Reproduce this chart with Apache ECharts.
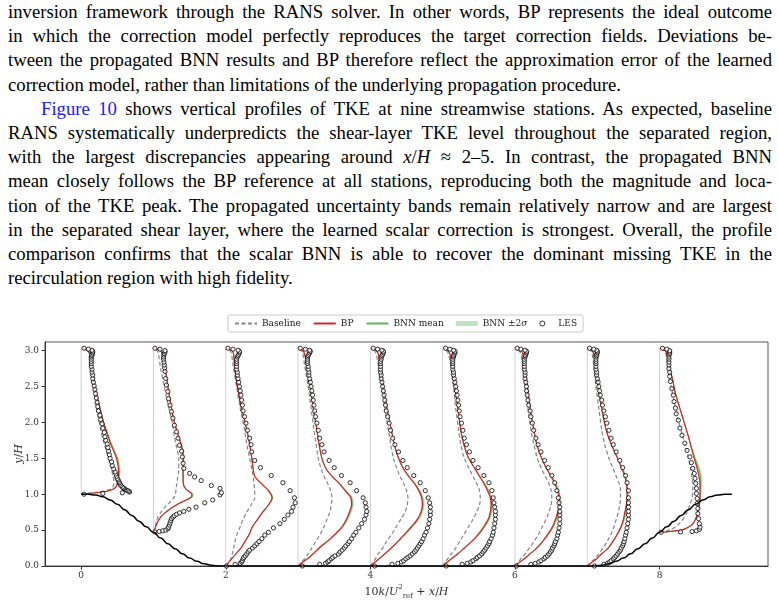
<!DOCTYPE html>
<html>
<head>
<meta charset="utf-8">
<script src="https://cdn.jsdelivr.net/npm/echarts@6/dist/echarts.min.js"></script>
<style>
  html, body { margin: 0; padding: 0; background: #fff; }
  body { width: 778px; height: 604px; position: relative; overflow: hidden; }
  .text {
    position: absolute; left: 8px; top: 0; width: 764px;
    font-family: "Liberation Serif", "Times New Roman", serif;
    font-size: 18.7px; line-height: 24.2px; color: #000;
  }
  .text .l { text-align: justify; text-align-last: justify; white-space: nowrap; }
  .text .e { text-align: left; }
  .text .ind { padding-left: 33px; }
  .text a { color: #1a1aff; text-decoration: none; }
  #chart { position: absolute; left: 0; top: 300px; width: 778px; height: 304px; }
</style>
</head>
<body>
<div class="text">
  <div class="l">inversion framework through the RANS solver. In other words, BP represents the ideal outcome</div>
  <div class="l">in which the correction model perfectly reproduces the target correction fields. Deviations be-</div>
  <div class="l">tween the propagated BNN results and BP therefore reflect the approximation error of the learned</div>
  <div class="e">correction model, rather than limitations of the underlying propagation procedure.</div>
  <div class="l ind"><a>Figure 10</a> shows vertical profiles of TKE at nine streamwise stations. As expected, baseline</div>
  <div class="l">RANS systematically underpredicts the shear-layer TKE level throughout the separated region,</div>
  <div class="l">with the largest discrepancies appearing around <i>x</i>/<i>H</i> ≈ 2–5. In contrast, the propagated BNN</div>
  <div class="l">mean closely follows the BP reference at all stations, reproducing both the magnitude and loca-</div>
  <div class="l">tion of the TKE peak. The propagated uncertainty bands remain relatively narrow and are largest</div>
  <div class="l">in the separated shear layer, where the learned scalar correction is strongest. Overall, the profile</div>
  <div class="l">comparison confirms that the scalar BNN is able to recover the dominant missing TKE in the</div>
  <div class="e">recirculation region with high fidelity.</div>
</div>
<div id="chart"></div>
<script>
// stations x/H and wall height under each station
const stations = [0, 1, 2, 3, 4, 5, 6, 7, 8];
const stationFloor = [1.0, 0.47, 0, 0, 0, 0, 0, 0, 0.47];
const wallTop = 3.036;

const xTicks = [0, 2, 4, 6, 8];
const yTicks = [0, 0.5, 1, 1.5, 2, 2.5, 3];

// hill geometry
const hillX = [0, 0.1, 0.2, 0.3, 0.4, 0.5, 0.6, 0.7, 0.8, 0.9, 1.0, 1.1, 1.2, 1.3, 1.4, 1.5, 1.6, 1.7, 1.8, 1.93,
    7.07, 7.2, 7.3, 7.4, 7.5, 7.6, 7.7, 7.8, 7.9, 8.0, 8.1, 8.2, 8.3, 8.4, 8.5, 8.6, 8.7, 8.8, 8.9, 9.0];
const hillY = [1.0, 0.998, 0.99, 0.965, 0.92, 0.86, 0.785, 0.705, 0.625, 0.545, 0.47, 0.39, 0.31, 0.24, 0.17, 0.11, 0.065, 0.03, 0.01, 0,
    0, 0.01, 0.03, 0.065, 0.11, 0.17, 0.24, 0.31, 0.39, 0.47, 0.545, 0.625, 0.705, 0.785, 0.86, 0.92, 0.965, 0.99, 0.998, 1.0];

// y levels of the RANS profiles
const lineYSt0 = [1.0, 1.01, 1.02, 1.04, 1.07, 1.1, 1.15, 1.2, 1.3, 1.4, 1.5, 1.6, 1.7, 1.85, 2.0, 2.2, 2.4, 2.6, 2.8, 2.98, 3.036];
const lineYSt1 = [0.47, 0.52, 0.57, 0.62, 0.68, 0.74, 0.80, 0.86, 0.92, 0.97, 1.00, 1.03, 1.07, 1.12, 1.2, 1.35, 1.5, 1.65, 1.8, 2.0, 2.25, 2.5, 2.75, 2.98, 3.036];
const lineYFlat = [0, 0.05, 0.1, 0.17, 0.25, 0.35, 0.45, 0.55, 0.65, 0.75, 0.85, 0.95, 1.05, 1.15, 1.25, 1.35, 1.5, 1.7, 1.9, 2.2, 2.5, 2.8, 2.98, 3.036];
const lineYSt8 = [0.47, 0.475, 0.485, 0.50, 0.52, 0.56, 0.60, 0.66, 0.75, 0.85, 0.95, 1.05, 1.15, 1.25, 1.36, 1.5, 1.65, 1.8, 2.0, 2.2, 2.4, 2.6, 2.8, 2.98, 3.036];
const lineY = [lineYSt0, lineYSt1, lineYFlat, lineYFlat, lineYFlat, lineYFlat, lineYFlat, lineYFlat, lineYSt8];

// 10k/U_ref^2 per station
const baselineK = [
    [0, 0.08, 0.16, 0.30, 0.40, 0.44, 0.45, 0.45, 0.43, 0.41, 0.38, 0.35, 0.32, 0.28, 0.25, 0.21, 0.18, 0.15, 0.12, 0.10, 0.01],
    [0, 0.02, 0.03, 0.04, 0.06, 0.10, 0.14, 0.20, 0.26, 0.29, 0.30, 0.31, 0.31, 0.32, 0.33, 0.35, 0.35, 0.32, 0.29, 0.26, 0.20, 0.15, 0.10, 0.06, 0.01],
    [0, 0.04, 0.07, 0.09, 0.11, 0.13, 0.16, 0.20, 0.24, 0.29, 0.35, 0.40, 0.40, 0.39, 0.38, 0.36, 0.33, 0.29, 0.26, 0.20, 0.15, 0.10, 0.07, 0.01],
    [0, 0.04, 0.09, 0.14, 0.19, 0.25, 0.31, 0.36, 0.40, 0.44, 0.46, 0.47, 0.45, 0.41, 0.36, 0.32, 0.28, 0.25, 0.22, 0.18, 0.14, 0.09, 0.06, 0.01],
    [0, 0.03, 0.07, 0.11, 0.17, 0.23, 0.30, 0.36, 0.42, 0.48, 0.51, 0.52, 0.50, 0.46, 0.41, 0.37, 0.32, 0.28, 0.25, 0.20, 0.16, 0.11, 0.07, 0.01],
    [0, 0.03, 0.07, 0.12, 0.18, 0.24, 0.30, 0.36, 0.42, 0.47, 0.51, 0.52, 0.51, 0.47, 0.42, 0.37, 0.30, 0.25, 0.22, 0.18, 0.15, 0.11, 0.07, 0.01],
    [0, 0.04, 0.08, 0.14, 0.20, 0.27, 0.33, 0.38, 0.43, 0.47, 0.50, 0.51, 0.50, 0.47, 0.42, 0.37, 0.31, 0.26, 0.22, 0.18, 0.14, 0.11, 0.07, 0.01],
    [0, 0.05, 0.10, 0.16, 0.22, 0.28, 0.33, 0.37, 0.40, 0.43, 0.45, 0.46, 0.46, 0.44, 0.40, 0.36, 0.30, 0.24, 0.20, 0.16, 0.12, 0.09, 0.06, 0.01],
    [0, 0.04, 0.08, 0.13, 0.18, 0.24, 0.28, 0.33, 0.38, 0.42, 0.45, 0.46, 0.46, 0.445, 0.43, 0.40, 0.36, 0.32, 0.27, 0.22, 0.18, 0.14, 0.11, 0.08, 0.01],
];
const bpK = [
    [0, 0.10, 0.20, 0.35, 0.44, 0.48, 0.50, 0.51, 0.52, 0.51, 0.49, 0.45, 0.41, 0.36, 0.31, 0.26, 0.21, 0.17, 0.14, 0.11, 0.01],
    [0, 0.02, 0.04, 0.06, 0.10, 0.16, 0.24, 0.33, 0.45, 0.53, 0.53, 0.50, 0.45, 0.42, 0.41, 0.41, 0.41, 0.39, 0.35, 0.29, 0.24, 0.20, 0.16, 0.11, 0.01],
    [0, 0.04, 0.08, 0.14, 0.21, 0.27, 0.33, 0.37, 0.44, 0.51, 0.59, 0.64, 0.59, 0.49, 0.40, 0.38, 0.36, 0.33, 0.29, 0.22, 0.16, 0.12, 0.10, 0.01],
    [0, 0.06, 0.13, 0.21, 0.29, 0.41, 0.52, 0.61, 0.67, 0.71, 0.74, 0.73, 0.65, 0.57, 0.47, 0.39, 0.33, 0.29, 0.26, 0.21, 0.17, 0.12, 0.08, 0.01],
    [0, 0.06, 0.12, 0.20, 0.29, 0.39, 0.48, 0.57, 0.65, 0.70, 0.72, 0.71, 0.67, 0.61, 0.53, 0.46, 0.39, 0.33, 0.29, 0.23, 0.18, 0.13, 0.10, 0.01],
    [0, 0.06, 0.12, 0.21, 0.30, 0.41, 0.50, 0.57, 0.63, 0.66, 0.67, 0.66, 0.62, 0.57, 0.51, 0.45, 0.36, 0.29, 0.25, 0.21, 0.17, 0.13, 0.09, 0.01],
    [0, 0.06, 0.13, 0.21, 0.30, 0.39, 0.46, 0.52, 0.56, 0.59, 0.61, 0.61, 0.59, 0.55, 0.50, 0.44, 0.37, 0.30, 0.26, 0.21, 0.17, 0.13, 0.10, 0.01],
    [0, 0.06, 0.13, 0.20, 0.29, 0.36, 0.42, 0.47, 0.50, 0.52, 0.54, 0.55, 0.55, 0.54, 0.52, 0.48, 0.42, 0.33, 0.26, 0.20, 0.15, 0.11, 0.08, 0.01],
    [0, 0.10, 0.18, 0.30, 0.36, 0.43, 0.47, 0.50, 0.53, 0.55, 0.56, 0.56, 0.56, 0.545, 0.52, 0.48, 0.44, 0.40, 0.34, 0.28, 0.22, 0.18, 0.13, 0.09, 0.01],
];
const bnnK = [
    [0, 0.10, 0.20, 0.35, 0.44, 0.48, 0.50, 0.51, 0.525, 0.52, 0.50, 0.46, 0.415, 0.36, 0.31, 0.26, 0.21, 0.17, 0.14, 0.11, 0.01],
    [0, 0.02, 0.04, 0.06, 0.10, 0.16, 0.24, 0.34, 0.46, 0.54, 0.54, 0.51, 0.45, 0.42, 0.41, 0.41, 0.415, 0.40, 0.35, 0.29, 0.24, 0.20, 0.16, 0.11, 0.01],
    [0, 0.04, 0.08, 0.14, 0.21, 0.27, 0.33, 0.37, 0.44, 0.51, 0.59, 0.645, 0.595, 0.49, 0.40, 0.38, 0.36, 0.33, 0.29, 0.22, 0.16, 0.12, 0.10, 0.01],
    [0, 0.06, 0.13, 0.21, 0.30, 0.42, 0.53, 0.62, 0.68, 0.72, 0.75, 0.74, 0.66, 0.57, 0.47, 0.39, 0.33, 0.29, 0.26, 0.21, 0.17, 0.12, 0.08, 0.01],
    [0, 0.06, 0.12, 0.20, 0.29, 0.39, 0.49, 0.58, 0.66, 0.71, 0.73, 0.72, 0.68, 0.61, 0.53, 0.46, 0.39, 0.33, 0.29, 0.23, 0.18, 0.13, 0.10, 0.01],
    [0, 0.06, 0.12, 0.21, 0.30, 0.41, 0.51, 0.58, 0.64, 0.67, 0.68, 0.67, 0.63, 0.58, 0.51, 0.45, 0.36, 0.29, 0.25, 0.21, 0.17, 0.13, 0.09, 0.01],
    [0, 0.06, 0.13, 0.21, 0.30, 0.39, 0.47, 0.53, 0.57, 0.60, 0.62, 0.62, 0.60, 0.56, 0.50, 0.44, 0.37, 0.30, 0.26, 0.21, 0.17, 0.13, 0.10, 0.01],
    [0, 0.06, 0.13, 0.20, 0.29, 0.36, 0.42, 0.47, 0.51, 0.53, 0.55, 0.56, 0.56, 0.55, 0.53, 0.49, 0.42, 0.33, 0.26, 0.20, 0.15, 0.11, 0.08, 0.01],
    [0, 0.10, 0.18, 0.30, 0.36, 0.43, 0.47, 0.50, 0.53, 0.55, 0.56, 0.565, 0.57, 0.565, 0.54, 0.49, 0.44, 0.40, 0.34, 0.28, 0.22, 0.18, 0.13, 0.09, 0.01],
];
// half width of the BNN +-2 sigma band
const bnn2s = [
    [0, 0.002, 0.004, 0.006, 0.008, 0.01, 0.012, 0.014, 0.018, 0.02, 0.02, 0.018, 0.014, 0.01, 0.007, 0.005, 0.004, 0.003, 0.003, 0.002, 0],
    [0, 0.002, 0.003, 0.004, 0.006, 0.008, 0.01, 0.012, 0.014, 0.015, 0.015, 0.013, 0.01, 0.008, 0.008, 0.01, 0.012, 0.01, 0.007, 0.005, 0.004, 0.003, 0.003, 0.002, 0],
    [0, 0.002, 0.003, 0.004, 0.005, 0.005, 0.006, 0.006, 0.008, 0.01, 0.012, 0.014, 0.012, 0.008, 0.006, 0.005, 0.005, 0.004, 0.004, 0.003, 0.003, 0.002, 0.002, 0],
    [0, 0.003, 0.005, 0.007, 0.009, 0.012, 0.015, 0.018, 0.02, 0.02, 0.02, 0.018, 0.015, 0.01, 0.008, 0.006, 0.005, 0.004, 0.004, 0.003, 0.003, 0.002, 0.002, 0],
    [0, 0.003, 0.005, 0.008, 0.01, 0.013, 0.016, 0.018, 0.02, 0.02, 0.02, 0.019, 0.017, 0.014, 0.011, 0.008, 0.006, 0.005, 0.004, 0.003, 0.003, 0.002, 0.002, 0],
    [0, 0.003, 0.005, 0.008, 0.01, 0.013, 0.016, 0.018, 0.02, 0.02, 0.02, 0.019, 0.017, 0.014, 0.011, 0.008, 0.006, 0.005, 0.004, 0.003, 0.003, 0.002, 0.002, 0],
    [0, 0.002, 0.004, 0.006, 0.008, 0.01, 0.012, 0.014, 0.015, 0.016, 0.016, 0.016, 0.015, 0.013, 0.01, 0.008, 0.006, 0.005, 0.004, 0.003, 0.003, 0.002, 0.002, 0],
    [0, 0.002, 0.004, 0.006, 0.008, 0.01, 0.012, 0.014, 0.015, 0.016, 0.016, 0.016, 0.015, 0.013, 0.01, 0.008, 0.006, 0.005, 0.004, 0.003, 0.003, 0.002, 0.002, 0],
    [0, 0.002, 0.003, 0.004, 0.005, 0.006, 0.007, 0.008, 0.009, 0.01, 0.012, 0.016, 0.022, 0.025, 0.022, 0.015, 0.01, 0.007, 0.005, 0.004, 0.003, 0.003, 0.002, 0.002, 0],
];

// LES sample levels
const lesYSt0 = [1.0, 1.01, 1.02, 1.03, 1.04, 1.05, 1.06, 1.07, 1.08, 1.09, 1.10, 1.12, 1.14, 1.16, 1.18, 1.20, 1.22, 1.25, 1.28, 1.31, 1.35, 1.40, 1.45, 1.50, 1.55, 1.60, 1.65, 1.70, 1.75, 1.80, 1.86, 1.92, 1.98, 2.04, 2.10, 2.16, 2.22, 2.28, 2.34, 2.40, 2.46, 2.51, 2.56, 2.61, 2.66, 2.70, 2.74, 2.78, 2.82, 2.85, 2.88, 2.91, 2.93, 2.95, 2.97, 2.99, 3.005, 3.02, 3.033];
const lesYSt1 = [0.474, 0.48, 0.49, 0.50, 0.52, 0.54, 0.57, 0.60, 0.63, 0.66, 0.68, 0.70, 0.72, 0.74, 0.76, 0.79, 0.82, 0.88, 0.92, 0.99, 1.02, 1.08, 1.12, 1.19, 1.24, 1.29, 1.36, 1.43, 1.52, 1.60, 1.68, 1.78, 1.87, 1.96, 2.06, 2.15, 2.24, 2.33, 2.43, 2.52, 2.61, 2.71, 2.76, 2.80, 2.84, 2.88, 2.91, 2.94, 2.96, 2.98, 3.00, 3.02, 3.033];
const lesYFlat = [0, 0.023, 0.037, 0.056, 0.074, 0.10, 0.12, 0.14, 0.167, 0.195, 0.22, 0.25, 0.28, 0.31, 0.34, 0.38, 0.43, 0.47, 0.53, 0.59, 0.65, 0.71, 0.76, 0.82, 0.88, 0.95, 1.05, 1.16, 1.26, 1.37, 1.47, 1.59, 1.69, 1.78, 1.89, 1.99, 2.08, 2.16, 2.24, 2.31, 2.38, 2.44, 2.50, 2.56, 2.61, 2.66, 2.70, 2.74, 2.78, 2.82, 2.85, 2.88, 2.91, 2.93, 2.95, 2.97, 2.99, 3.005, 3.02, 3.033];
const lesYSt8 = [0.47, 0.475, 0.48, 0.49, 0.51, 0.54, 0.59, 0.66, 0.73, 0.80, 0.87, 0.94, 1.01, 1.08, 1.15, 1.22, 1.29, 1.36, 1.44, 1.52, 1.61, 1.71, 1.82, 1.92, 2.03, 2.12, 2.20, 2.29, 2.38, 2.47, 2.57, 2.64, 2.70, 2.75, 2.80, 2.84, 2.88, 2.91, 2.94, 2.96, 2.98, 3.00, 3.02, 3.033];
const lesY = [lesYSt0, lesYSt1, lesYFlat, lesYFlat, lesYFlat, lesYFlat, lesYFlat, lesYFlat, lesYSt8];

const lesK = [
    [0.04, 0.30, 0.57, 0.67, 0.66, 0.64, 0.62, 0.60, 0.59, 0.58, 0.57, 0.55, 0.54, 0.53, 0.52, 0.51, 0.50, 0.49, 0.48, 0.47, 0.45, 0.43, 0.42, 0.40, 0.39, 0.38, 0.37, 0.36, 0.34, 0.33, 0.32, 0.30, 0.29, 0.27, 0.26, 0.24, 0.23, 0.22, 0.21, 0.20, 0.19, 0.18, 0.17, 0.16, 0.16, 0.15, 0.15, 0.14, 0.14, 0.14, 0.14, 0.14, 0.15, 0.15, 0.16, 0.16, 0.15, 0.10, 0.04],
    [0.02, 0.08, 0.13, 0.17, 0.20, 0.21, 0.22, 0.23, 0.24, 0.25, 0.27, 0.29, 0.32, 0.36, 0.42, 0.49, 0.59, 0.71, 0.82, 0.92, 0.94, 0.92, 0.80, 0.66, 0.57, 0.50, 0.42, 0.41, 0.40, 0.39, 0.36, 0.34, 0.32, 0.29, 0.27, 0.25, 0.23, 0.21, 0.20, 0.18, 0.17, 0.16, 0.155, 0.15, 0.145, 0.14, 0.14, 0.145, 0.15, 0.16, 0.16, 0.09, 0.02],
    [0.01, 0.13, 0.20, 0.22, 0.23, 0.24, 0.25, 0.27, 0.29, 0.31, 0.33, 0.37, 0.40, 0.43, 0.46, 0.50, 0.54, 0.59, 0.66, 0.75, 0.81, 0.86, 0.91, 0.93, 0.96, 0.95, 0.89, 0.79, 0.63, 0.48, 0.40, 0.36, 0.35, 0.33, 0.30, 0.28, 0.26, 0.24, 0.23, 0.22, 0.21, 0.20, 0.19, 0.18, 0.17, 0.16, 0.16, 0.15, 0.15, 0.15, 0.15, 0.15, 0.16, 0.17, 0.18, 0.19, 0.19, 0.17, 0.10, 0.03],
    [0.06, 0.30, 0.38, 0.41, 0.43, 0.46, 0.48, 0.51, 0.56, 0.58, 0.61, 0.64, 0.66, 0.69, 0.71, 0.74, 0.77, 0.80, 0.84, 0.88, 0.92, 0.94, 0.95, 0.94, 0.93, 0.90, 0.81, 0.72, 0.60, 0.50, 0.43, 0.36, 0.33, 0.30, 0.28, 0.26, 0.24, 0.23, 0.22, 0.21, 0.20, 0.19, 0.18, 0.17, 0.16, 0.15, 0.15, 0.14, 0.14, 0.13, 0.13, 0.13, 0.13, 0.14, 0.15, 0.16, 0.17, 0.16, 0.10, 0.03],
    [0.06, 0.30, 0.38, 0.43, 0.46, 0.49, 0.52, 0.55, 0.58, 0.61, 0.63, 0.65, 0.67, 0.69, 0.71, 0.73, 0.75, 0.77, 0.79, 0.81, 0.82, 0.83, 0.83, 0.83, 0.82, 0.80, 0.76, 0.69, 0.60, 0.51, 0.45, 0.39, 0.34, 0.31, 0.28, 0.26, 0.24, 0.22, 0.21, 0.20, 0.19, 0.18, 0.17, 0.16, 0.15, 0.15, 0.14, 0.14, 0.14, 0.14, 0.14, 0.15, 0.15, 0.16, 0.17, 0.18, 0.18, 0.16, 0.10, 0.04],
    [0.05, 0.27, 0.34, 0.39, 0.42, 0.46, 0.48, 0.51, 0.54, 0.56, 0.58, 0.60, 0.62, 0.64, 0.65, 0.67, 0.69, 0.70, 0.71, 0.72, 0.73, 0.73, 0.73, 0.72, 0.71, 0.70, 0.68, 0.64, 0.57, 0.49, 0.42, 0.37, 0.33, 0.30, 0.28, 0.26, 0.24, 0.23, 0.22, 0.21, 0.20, 0.19, 0.18, 0.17, 0.16, 0.15, 0.15, 0.14, 0.14, 0.14, 0.14, 0.14, 0.15, 0.15, 0.16, 0.17, 0.17, 0.15, 0.10, 0.04],
    [0.02, 0.22, 0.28, 0.33, 0.36, 0.40, 0.42, 0.45, 0.47, 0.49, 0.51, 0.52, 0.54, 0.55, 0.56, 0.58, 0.59, 0.60, 0.61, 0.62, 0.62, 0.62, 0.62, 0.62, 0.61, 0.60, 0.58, 0.55, 0.51, 0.46, 0.41, 0.36, 0.32, 0.29, 0.26, 0.24, 0.22, 0.21, 0.19, 0.18, 0.17, 0.16, 0.16, 0.15, 0.14, 0.14, 0.14, 0.13, 0.13, 0.13, 0.13, 0.13, 0.14, 0.14, 0.15, 0.16, 0.16, 0.14, 0.08, 0.03],
    [0.10, 0.23, 0.28, 0.31, 0.33, 0.36, 0.38, 0.40, 0.42, 0.44, 0.46, 0.47, 0.49, 0.50, 0.51, 0.52, 0.53, 0.54, 0.55, 0.56, 0.57, 0.57, 0.57, 0.57, 0.57, 0.57, 0.57, 0.55, 0.53, 0.49, 0.45, 0.40, 0.36, 0.33, 0.30, 0.27, 0.25, 0.23, 0.21, 0.20, 0.18, 0.17, 0.16, 0.15, 0.14, 0.13, 0.13, 0.12, 0.12, 0.12, 0.12, 0.12, 0.12, 0.13, 0.13, 0.14, 0.14, 0.13, 0.09, 0.03],
    [0.02, 0.29, 0.45, 0.51, 0.55, 0.56, 0.55, 0.54, 0.53, 0.53, 0.52, 0.52, 0.51, 0.51, 0.50, 0.49, 0.48, 0.46, 0.44, 0.42, 0.38, 0.35, 0.31, 0.28, 0.26, 0.23, 0.22, 0.20, 0.19, 0.17, 0.15, 0.14, 0.14, 0.13, 0.13, 0.13, 0.13, 0.13, 0.13, 0.14, 0.14, 0.14, 0.10, 0.04],
];

const SERIF = "DejaVu Serif";
const bandColor = "rgba(44, 160, 44, 0.3)";

function profile(kList, yList, i) {
    return kList[i].map((k, j) => [stations[i] + k, yList[i][j]]);
}

const series = [];

stations.forEach((s, i) => {
    series.push({
        type: "line",
        data: [[s, stationFloor[i]], [s, wallTop]],
        symbol: "none",
        silent: true,
        lineStyle: { color: "#d0d0d0", width: 1 },
        z: 1,
    });
    series.push({
        name: "Baseline",
        type: "line",
        data: profile(baselineK, lineY, i),
        smooth: 0.3,
        symbol: "none",
        lineStyle: { color: "#858585", width: 1.2, type: [4, 2.5] },
        z: 2,
    });
    series.push({
        name: "BNN ±2σ",
        type: "custom",
        data: [[s, stationFloor[i]]],
        renderItem: function (params, api) {
            const ys = lineY[i];
            const pts = [];
            for (let j = 0; j < ys.length; j++) {
                pts.push(api.coord([s + bnnK[i][j] - bnn2s[i][j], ys[j]]));
            }
            for (let j = ys.length - 1; j >= 0; j--) {
                pts.push(api.coord([s + bnnK[i][j] + bnn2s[i][j], ys[j]]));
            }
            return {
                type: "polygon",
                shape: { points: pts, smooth: 0.3 },
                style: { fill: bandColor },
            };
        },
        itemStyle: { color: bandColor },
        z: 3,
    });
    series.push({
        name: "BNN mean",
        type: "line",
        data: profile(bnnK, lineY, i),
        smooth: 0.3,
        symbol: "none",
        lineStyle: { color: "#5cb85c", width: 1 },
        z: 4,
    });
    series.push({
        name: "BP",
        type: "line",
        data: profile(bpK, lineY, i),
        smooth: 0.3,
        symbol: "none",
        lineStyle: { color: "#d62728", width: 1.2 },
        z: 5,
    });
    series.push({
        name: "LES",
        type: "scatter",
        data: profile(lesK, lesY, i),
        symbol: "circle",
        symbolSize: 4.2,
        itemStyle: { color: "#fff", borderColor: "#000", borderWidth: 1 },
        z: 6,
    });
});

series.push({
    type: "line",
    data: hillX.map((x, j) => [x, hillY[j]]),
    smooth: 0.5,
    smoothMonotone: "x",
    symbol: "none",
    silent: true,
    lineStyle: { color: "#000", width: 1.5 },
    z: 7,
});

const noMarker = { opacity: 0 };

const chart = echarts.init(document.getElementById("chart"));
chart.setOption({
    animation: false,
    backgroundColor: "transparent",
    grid: {
        left: 45, right: 10, top: 42, bottom: 38,
        outerBoundsMode: "none",
        show: true, borderColor: "#555", borderWidth: 1,
    },
    legend: {
        data: [
            { name: "Baseline", itemStyle: noMarker },
            { name: "BP", itemStyle: noMarker },
            { name: "BNN mean", itemStyle: noMarker },
            { name: "BNN ±2σ", icon: "rect", itemStyle: { color: bandColor } },
            { name: "LES", itemStyle: { color: "#fff", borderColor: "#000", borderWidth: 1 } },
        ],
        left: 228,
        top: 15,
        itemWidth: 22,
        itemHeight: 5,
        itemGap: 12,
        selectedMode: false,
        borderColor: "#ccc",
        borderWidth: 1,
        borderRadius: 2,
        padding: [4, 6],
        formatter: (name) => (name === "BNN ±2σ" ? "BNN ±2{i|σ}" : name),
        textStyle: {
            fontFamily: SERIF, fontSize: 9, color: "#222",
            rich: { i: { fontFamily: SERIF, fontSize: 9, fontStyle: "italic", color: "#222" } },
        },
    },
    xAxis: {
        type: "value",
        min: -0.5,
        max: 9.5,
        name: "{m|10}{i|k}{m|/}{i|U}{sup|2}{sub|ref}{m| + }{i|x}{m|/}{i|H}",
        nameLocation: "middle",
        nameGap: 18,
        nameMoveOverlap: false,
        nameTextStyle: {
            rich: {
                m: { fontFamily: SERIF, fontSize: 11, color: "#333", lineHeight: 16 },
                i: { fontFamily: SERIF, fontSize: 11, fontStyle: "italic", color: "#333", lineHeight: 16 },
                sup: { fontFamily: SERIF, fontSize: 7, color: "#333", lineHeight: 9, verticalAlign: "top" },
                sub: { fontFamily: SERIF, fontSize: 7, color: "#333", lineHeight: 9, verticalAlign: "bottom" },
            },
        },
        axisLine: { show: true, onZero: false, lineStyle: { color: "#333", width: 1 } },
        axisTick: { show: true, customValues: xTicks, length: 3.5, lineStyle: { color: "#333" } },
        axisLabel: { customValues: xTicks, fontFamily: SERIF, fontSize: 9, color: "#333", margin: 5 },
        splitLine: { show: false },
    },
    yAxis: {
        type: "value",
        min: 0,
        max: 3.12,
        name: "{i|y}{m|/}{i|H}",
        nameLocation: "middle",
        nameGap: 20,
        nameRotate: 90,
        nameMoveOverlap: false,
        nameTextStyle: {
            rich: {
                m: { fontFamily: SERIF, fontSize: 11, color: "#333" },
                i: { fontFamily: SERIF, fontSize: 11, fontStyle: "italic", color: "#333" },
            },
        },
        axisLine: { show: true, onZero: false, lineStyle: { color: "#333", width: 1 } },
        axisTick: { show: true, customValues: yTicks, length: 3.5, lineStyle: { color: "#333" } },
        axisLabel: {
            customValues: yTicks,
            fontFamily: SERIF, fontSize: 9, color: "#333", margin: 6,
            formatter: (v) => v.toFixed(1),
        },
        splitLine: { show: false },
    },
    series: series,
});
</script>
</body>
</html>
